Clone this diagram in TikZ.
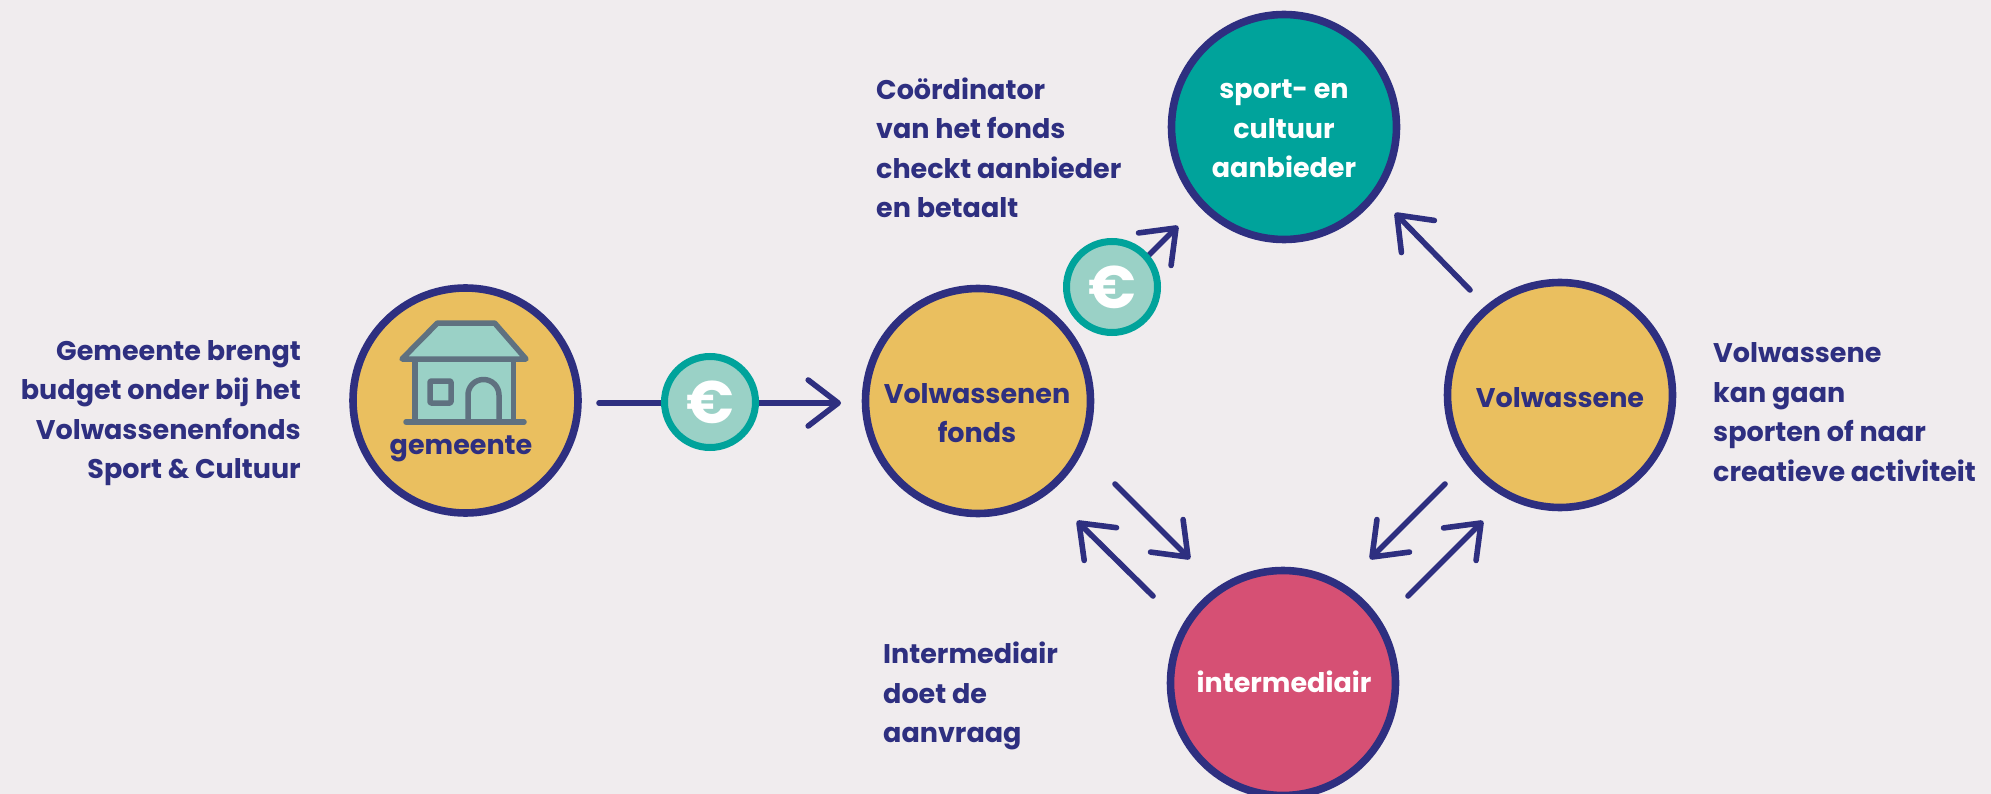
\documentclass[tikz,border=0pt]{standalone}
\usepackage{fontspec}
\setmainfont{Poppins}
\usetikzlibrary{arrows.meta,calc}
\definecolor{bgc}{HTML}{F0ECEE}
\definecolor{navy}{HTML}{2E2F80}
\definecolor{yel}{HTML}{EABF5F}
\definecolor{tealc}{HTML}{00A39B}
\definecolor{pinkc}{HTML}{D65074}
\definecolor{mint}{HTML}{9AD1C6}
\definecolor{slatec}{HTML}{5F7180}
\tikzset{
  x=1pt,y=-1pt,
  big/.style={circle,draw=navy,line width=7.6pt,minimum size=225pt,inner sep=0pt,align=center},
  money/.style={circle,draw=tealc,fill=mint,line width=7pt,minimum size=91pt,inner sep=0pt,text=white,
     font=\fontsize{60}{60}\selectfont\bfseries},
  arr/.style={draw=navy,line width=5.6pt,line cap=round,-{Straight Barb[length=30pt,width=46pt,round]}},
  note/.style={text=navy,inner sep=0pt,font=\fontsize{27}{39.5}\selectfont\bfseries},
  hs/.style={draw=slatec,line width=5.5pt,line join=round,line cap=round},
}
\begin{document}
\begin{tikzpicture}
\fill[bgc] (0,0) rectangle (1991,794);
\useasboundingbox (0,0) rectangle (1991,794);
\node[big,fill=yel] (gem) at (465.5,400.5) {};
\node[big,fill=yel] (fonds) at (978,401) {};
\node[big,fill=tealc] (sport) at (1284,127) {};
\node[big,fill=yel] (volw) at (1560,395) {};
\node[big,fill=pinkc] (inter) at (1283,683) {};
\node[note,text=navy] (tgem) at (461,449) {gemeente};
\node[note,text=navy,align=center] (tfonds) at (977,413) {Volwassenen\\fonds};
\node[note,text=navy] (tvolw) at (1560,398) {Volwassene};
\node[note,text=white,align=center] (tsport) at (1284,129) {sport- en\\cultuur\\aanbieder};
\node[note,text=white] (tinter) at (1284,682) {intermediair};
% house
\filldraw[hs,fill=mint] (415,359) rectangle (513.6,422);
\filldraw[hs,fill=mint] (402,359) -- (437.5,323) -- (494.6,323) -- (526,359) -- cycle;
\draw[hs] (406,422) -- (524,422);
\draw[hs,rounded corners=1pt] (430,381) rectangle (451,403);
\draw[hs] (468,422) -- (468,395) arc[start angle=180,end angle=360,radius=15.5] -- (499,422);
% arrows
\draw[arr] ($(gem)+(133.5,2.5)$) -- ($(fonds)+(-137,2)$);
\draw[arr] ($(fonds)+(140,-115)$) -- ($(sport)+(-106,99)$);
\draw[arr] ($(fonds)+(137,83)$) -- ($(inter)+(-93,-124)$);
\draw[arr] ($(inter)+(-130,-87)$) -- ($(fonds)+(99,120)$);
\draw[arr] ($(volw)+(-115,89)$) -- ($(inter)+(87,-124)$);
\draw[arr] ($(inter)+(125,-87)$) -- ($(volw)+(-77,126)$);
\draw[arr] ($(volw)+(-90,-105)$) -- ($(sport)+(111,86)$);
% euro badges
\node[money] (euroa) at (710,402) {€};
\node[money] (eurob) at (1112,287) {€};
% notes
\node[note,anchor=east,align=right] (n1) at (301,413) {Gemeente brengt\\budget onder bij het\\Volwassenenfonds\\Sport \& Cultuur};
\node[note,anchor=west,align=left] (n2) at (876,148) {Coördinator\\van het fonds\\checkt aanbieder\\en betaalt};
\node[note,anchor=west,align=left] (n3) at (883,696) {Intermediair\\doet de\\aanvraag};
\node[note,anchor=west,align=left] (n4) at (1713,412) {Volwassene\\kan gaan\\sporten of naar\\creatieve activiteit};
\end{tikzpicture}
\end{document}
